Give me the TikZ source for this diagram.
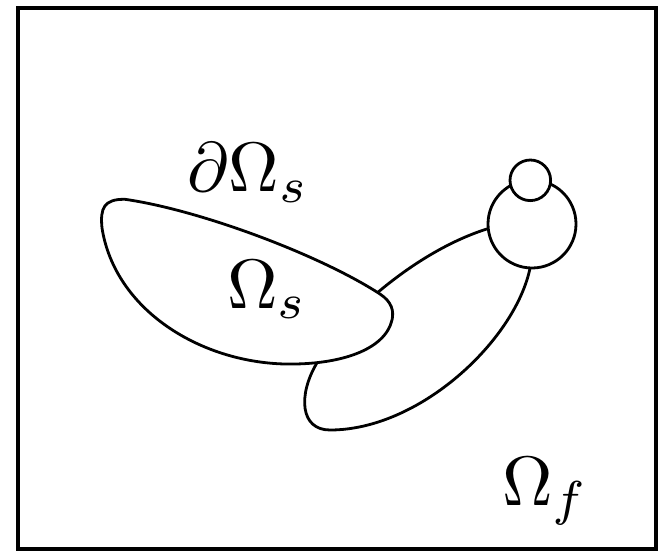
\documentclass[tikz,border=0pt]{standalone}
\begin{document}
\begin{tikzpicture}[x=1pt,y=-1pt,
  region/.style={draw=black,line width=2.8pt,fill=white,line join=round},
  lbl/.style={anchor=base west,inner sep=0pt,scale=7,font=\fontsize{10}{12}\selectfont}]
\useasboundingbox (0,0) rectangle (658,550);
\draw[line width=4pt] (17.5,7.5) rectangle (656,548.5);
% fluid pocket (elongated loop, partly hidden)
\draw[region] (530,268.3) .. controls (515,340) and (420,430) .. (330,430)
  .. controls (300,430) and (298,395) .. (316.7,363.3)
  .. controls (330,340) and (350,310) .. (376.7,293.3)
  .. controls (410,265) and (450,240) .. (490,228)
  .. controls (525,218) and (540,240) .. (530,268.3) -- cycle;
% solid domain
\draw[region] (102,228) .. controls (100,208) and (104,199) .. (125,199.3)
  .. controls (200,210) and (320,255) .. (380,294)
  .. controls (392,302) and (394,311) .. (392,320)
  .. controls (385,350) and (340,365) .. (285,364)
  .. controls (200,362) and (115,310) .. (102,228) -- cycle;
% circles
\draw[region] (532,224) circle[radius=44pt];
\draw[region] (530.3,180.3) circle[radius=20.3pt];
% labels
\node[lbl] (dos) at (186,191.7) {$\partial\Omega_s$};
\node[lbl] (os) at (226,308.3) {$\Omega_s$};
\node[lbl] (of) at (501,505) {$\Omega_f$};
\end{tikzpicture}
\end{document}
